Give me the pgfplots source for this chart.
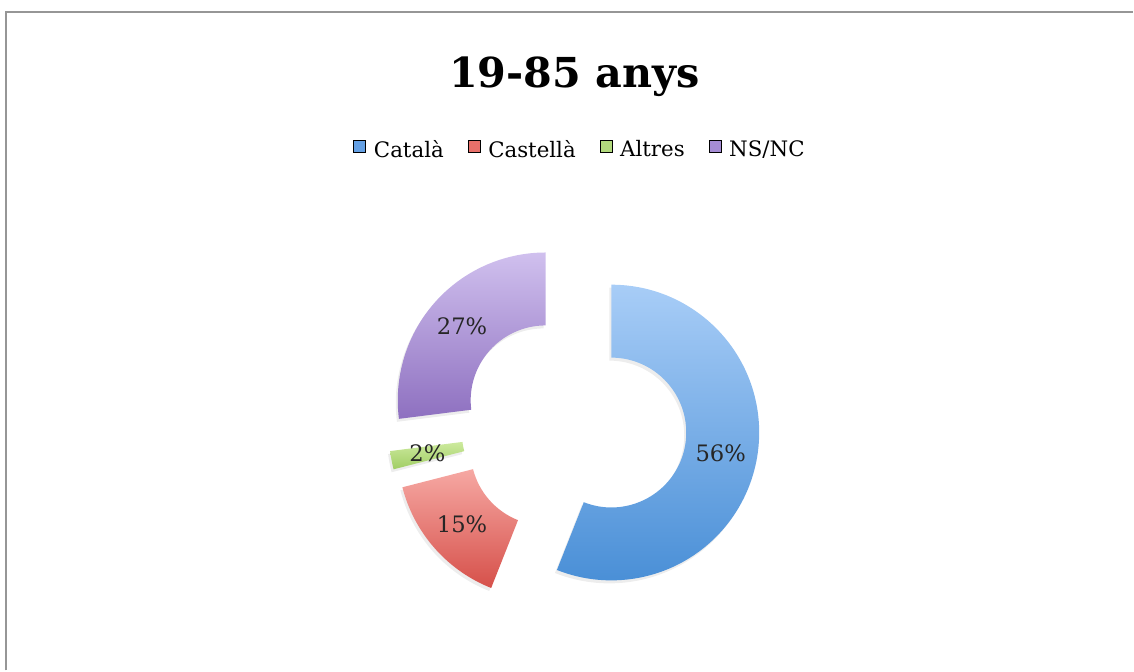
\documentclass[border=0pt]{standalone}
\usepackage{pgfplots}
\pgfplotsset{compat=1.18}
\usepackage{fontspec}
\setmainfont{DejaVu Serif}

\definecolor{bluetop}{RGB}{168,205,247}
\definecolor{bluebot}{RGB}{72,142,214}
\definecolor{redtop}{RGB}{246,168,163}
\definecolor{redbot}{RGB}{214,80,74}
\definecolor{greentop}{RGB}{205,234,158}
\definecolor{greenbot}{RGB}{160,205,100}
\definecolor{purptop}{RGB}{208,192,238}
\definecolor{purpbot}{RGB}{142,112,192}
\definecolor{cblue}{RGB}{100,160,228}
\definecolor{cred}{RGB}{232,112,106}
\definecolor{cgreen}{RGB}{178,218,125}
\definecolor{cpurp}{RGB}{165,140,212}
\definecolor{framegray}{RGB}{150,150,150}

% donut geometry (pixel units, y up)
\def\cx{574.7}
\def\cy{245.1}
\def\ex{38}
\def\R{148}
\def\r{75}

% path of one exploded donut segment: start %, value %, dx, dy
\newcommand{\seg}[4]{%
 ({\cx+#3+\ex*sin(3.6*(#1+#2/2))+\R*sin(3.6*#1)},{\cy+#4+\ex*cos(3.6*(#1+#2/2))+\R*cos(3.6*#1)})
 arc[start angle={90-3.6*#1}, end angle={90-3.6*(#1+#2)}, radius=111pt]
 -- ({\cx+#3+\ex*sin(3.6*(#1+#2/2))+\r*sin(3.6*(#1+#2))},{\cy+#4+\ex*cos(3.6*(#1+#2/2))+\r*cos(3.6*(#1+#2))})
 arc[start angle={90-3.6*(#1+#2)}, end angle={90-3.6*#1}, radius=56.25pt] -- cycle}

\newcommand{\slice}[4]{%
 \fill[black,opacity=0.07] \seg{#1}{#2}{-2}{-3};
 \shade[top color=#3, bottom color=#4] \seg{#1}{#2}{0}{0};
 \node[font=\fontsize{17}{20}\selectfont, text=black!85] at
   ({\cx+(\ex+111.5)*sin(3.6*(#1+#2/2))},{\cy+(\ex+111.5)*cos(3.6*(#1+#2/2))}) {#2\%};
}

\begin{document}
\begin{tikzpicture}
\begin{axis}[
  x=0.75pt, y=0.75pt,
  xmin=0, xmax=1134, ymin=0, ymax=671,
  enlargelimits=false,
  hide axis,
  clip=false,
  legend columns=4,
  legend image code/.code={\fill[#1] (0pt,-1.5pt) rectangle (9pt,7.5pt);},
  legend style={draw=none, fill=none, at={(axis cs:581,521)}, anchor=center,
    font=\fontsize{16}{19}\selectfont, inner sep=0pt,
    /tikz/every odd column/.append style={column sep=4pt},
    /tikz/every even column/.append style={column sep=16pt}},
]
% full canvas
\path (0,0) rectangle (1134,671);
% frame
\draw[framegray, line width=1.9pt] (6,0) -- (6,659) -- (1134,659);

% title
\node[font=\bfseries\fontsize{31}{36}\selectfont, anchor=base] at (575,583) {19-85 anys};

% legend
\addlegendimage{fill=cblue}\addlegendentry{Català}
\addlegendimage{fill=cred}\addlegendentry{Castellà}
\addlegendimage{fill=cgreen}\addlegendentry{Altres}
\addlegendimage{fill=cpurp}\addlegendentry{NS/NC}

% slices: start %, value %, colours
\slice{0}{56}{bluetop}{bluebot}
\slice{56}{15}{redtop}{redbot}
\slice{71}{2}{greentop}{greenbot}
\slice{73}{27}{purptop}{purpbot}
\end{axis}
\end{tikzpicture}
\end{document}
